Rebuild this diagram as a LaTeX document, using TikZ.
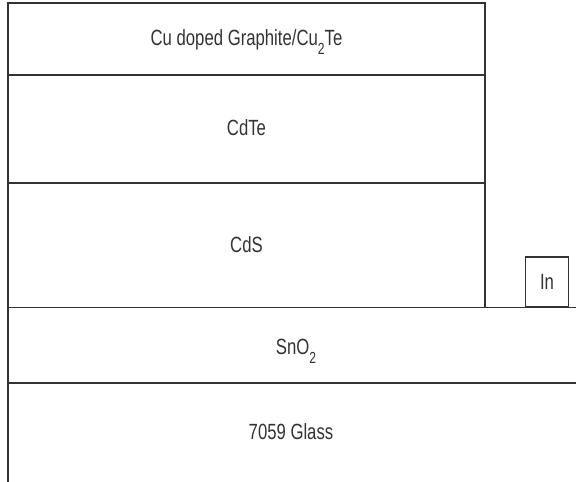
\documentclass[tikz,border=0pt]{standalone}
\usepackage{fontspec}
\setmainfont{Liberation Sans}
\usepackage{graphicx}
\usepackage{tikz}
\usetikzlibrary{positioning}
\definecolor{ink}{HTML}{333333}
\newcommand{\labfont}{\fontsize{22}{26}\selectfont}
\newcommand{\narrow}[1]{\scalebox{0.76}[1]{#1}}
\newcommand{\lowsub}[1]{\raisebox{-9pt}{\fontsize{16}{16}\selectfont #1}}

\begin{document}
\begin{tikzpicture}[x=1pt,y=-1pt,
    edge/.style={draw=ink,line width=1.1pt},
    lab/.style={anchor=base,inner sep=0pt,text=ink,font=\labfont},
    contact/.style={draw=ink,line width=1.1pt,shape=rectangle,inner sep=0pt,
                    minimum width=43.6pt,minimum height=50pt,anchor=south west,
                    text=ink,font=\labfont}]

\useasboundingbox (0,0) rectangle (576,482);

% ======================= film stack outline ===========================================
\draw[edge] (485,307.5) -- (485,3) -- (8,3) -- (8,482);
\draw[edge] (8,75)    -- (485,75);
\draw[edge] (8,183)   -- (485,183);
\draw[edge] (8,307.5) -- (576,307.5);
\draw[edge] (8,383)   -- (576,383);

% ======================= layer labels =================================================
\node[lab] (back)  at (246.5,45)  {\narrow{Cu doped Graphite/Cu\lowsub{2}Te}};
\node[lab] (cdte)  at (246.5,135) {\narrow{CdTe}};
\node[lab] (cds)   at (246.5,252) {\narrow{CdS}};
\node[lab] (tco)   at (296,354)   {\narrow{SnO\lowsub{2}}};
\node[lab] (glass) at (291,439)   {\narrow{7059 Glass}};

% ======================= front contact ================================================
\node[contact] (in) at (524.7,307.5) {\narrow{In}};

\end{tikzpicture}
\end{document}
